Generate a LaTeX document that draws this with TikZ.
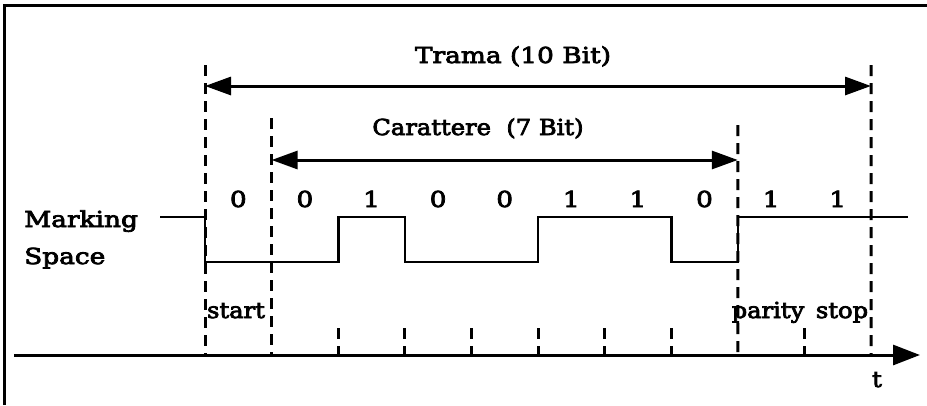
\documentclass[tikz,border=0pt]{standalone}
\usepackage{fontspec}
\setmainfont[FakeStretch=1.2,FakeBold=3.5]{DejaVu Serif}
\newfontfamily\narrowfont[FakeStretch=1.1,FakeBold=3.5]{DejaVu Serif}
\usetikzlibrary{arrows.meta}
\begin{document}
\begin{tikzpicture}[x=1pt,y=-1pt,
  vdash/.style={line width=3pt, dash pattern=on 11pt off 7pt},
  sig/.style={line width=2.6pt},
  lbl/.style={font=\fontsize{22}{22}\selectfont, inner sep=0pt, anchor=base},
  nlbl/.style={font=\narrowfont\fontsize{22}{22}\selectfont, inner sep=0pt, anchor=base},
  dim/.style={line width=3pt, {Triangle[length=26pt,width=18pt]}-{Triangle[length=26pt,width=18pt]}},
  axis/.style={line width=3pt, -{Triangle[length=27pt,width=20pt]}}
]
\useasboundingbox (0,0) rectangle (927,405);
% frame
\draw[line width=3pt] (4,405) -- (4,5) -- (927,5);
% boundaries
\foreach \i in {0,...,10} {
  \coordinate (b\i) at ({205+\i*66.6},355);
}
\coordinate (t0) at (205,65);
\coordinate (t1) at (271.6,118);
\coordinate (t8) at (737.8,125);
\coordinate (t10) at (871,65);
\foreach \i in {0,1,8,10} { \draw[vdash] (t\i) -- (b\i); }
\foreach \i in {2,...,7,9} { \draw[vdash] ([yshift=27pt]b\i) -- (b\i); }
% dimension arrows
\coordinate (tl) at (205,86);
\coordinate (tr) at (871,86);
\draw[dim] (tl) -- (tr);
\node[lbl] (trama) at (513,63) {Trama (10 Bit)};
\coordinate (cl) at (271.6,160);
\coordinate (cr) at (737.8,160);
\draw[dim] (cl) -- (cr);
\node[nlbl] (car) at (478,135) {Carattere\ \ (7 Bit)};
% bits
\foreach \v [count=\k from 0] in {0,0,1,0,0,1,1,0,1,1} {
  \node[lbl] (d\k) at ({205+33.3+\k*66.6},207) {\v};
}
% signal
\draw[sig] (160,217) -- (205,217) -- (205,262) -- (338.2,262) -- (338.2,217) -- (404.8,217) -- (404.8,262) -- (538,262) -- (538,217) -- (671.2,217) -- (671.2,262) -- (737.8,262) -- (737.8,217) -- (908,217);
\node[lbl, anchor=base west] (mark) at (24,227) {Marking};
\node[lbl, anchor=base west] (space) at (24,264) {Space};
% axis
\coordinate (axs) at (14,355);
\coordinate (axe) at (920,355);
\draw[axis] (axs) -- (axe);
\node[nlbl] (start) at (236,318) {start};
\node[nlbl] (parity) at (768,318) {parity};
\node[nlbl] (stop) at (842,318) {stop};
\node[nlbl] (t) at (877,387) {t};
\end{tikzpicture}
\end{document}
